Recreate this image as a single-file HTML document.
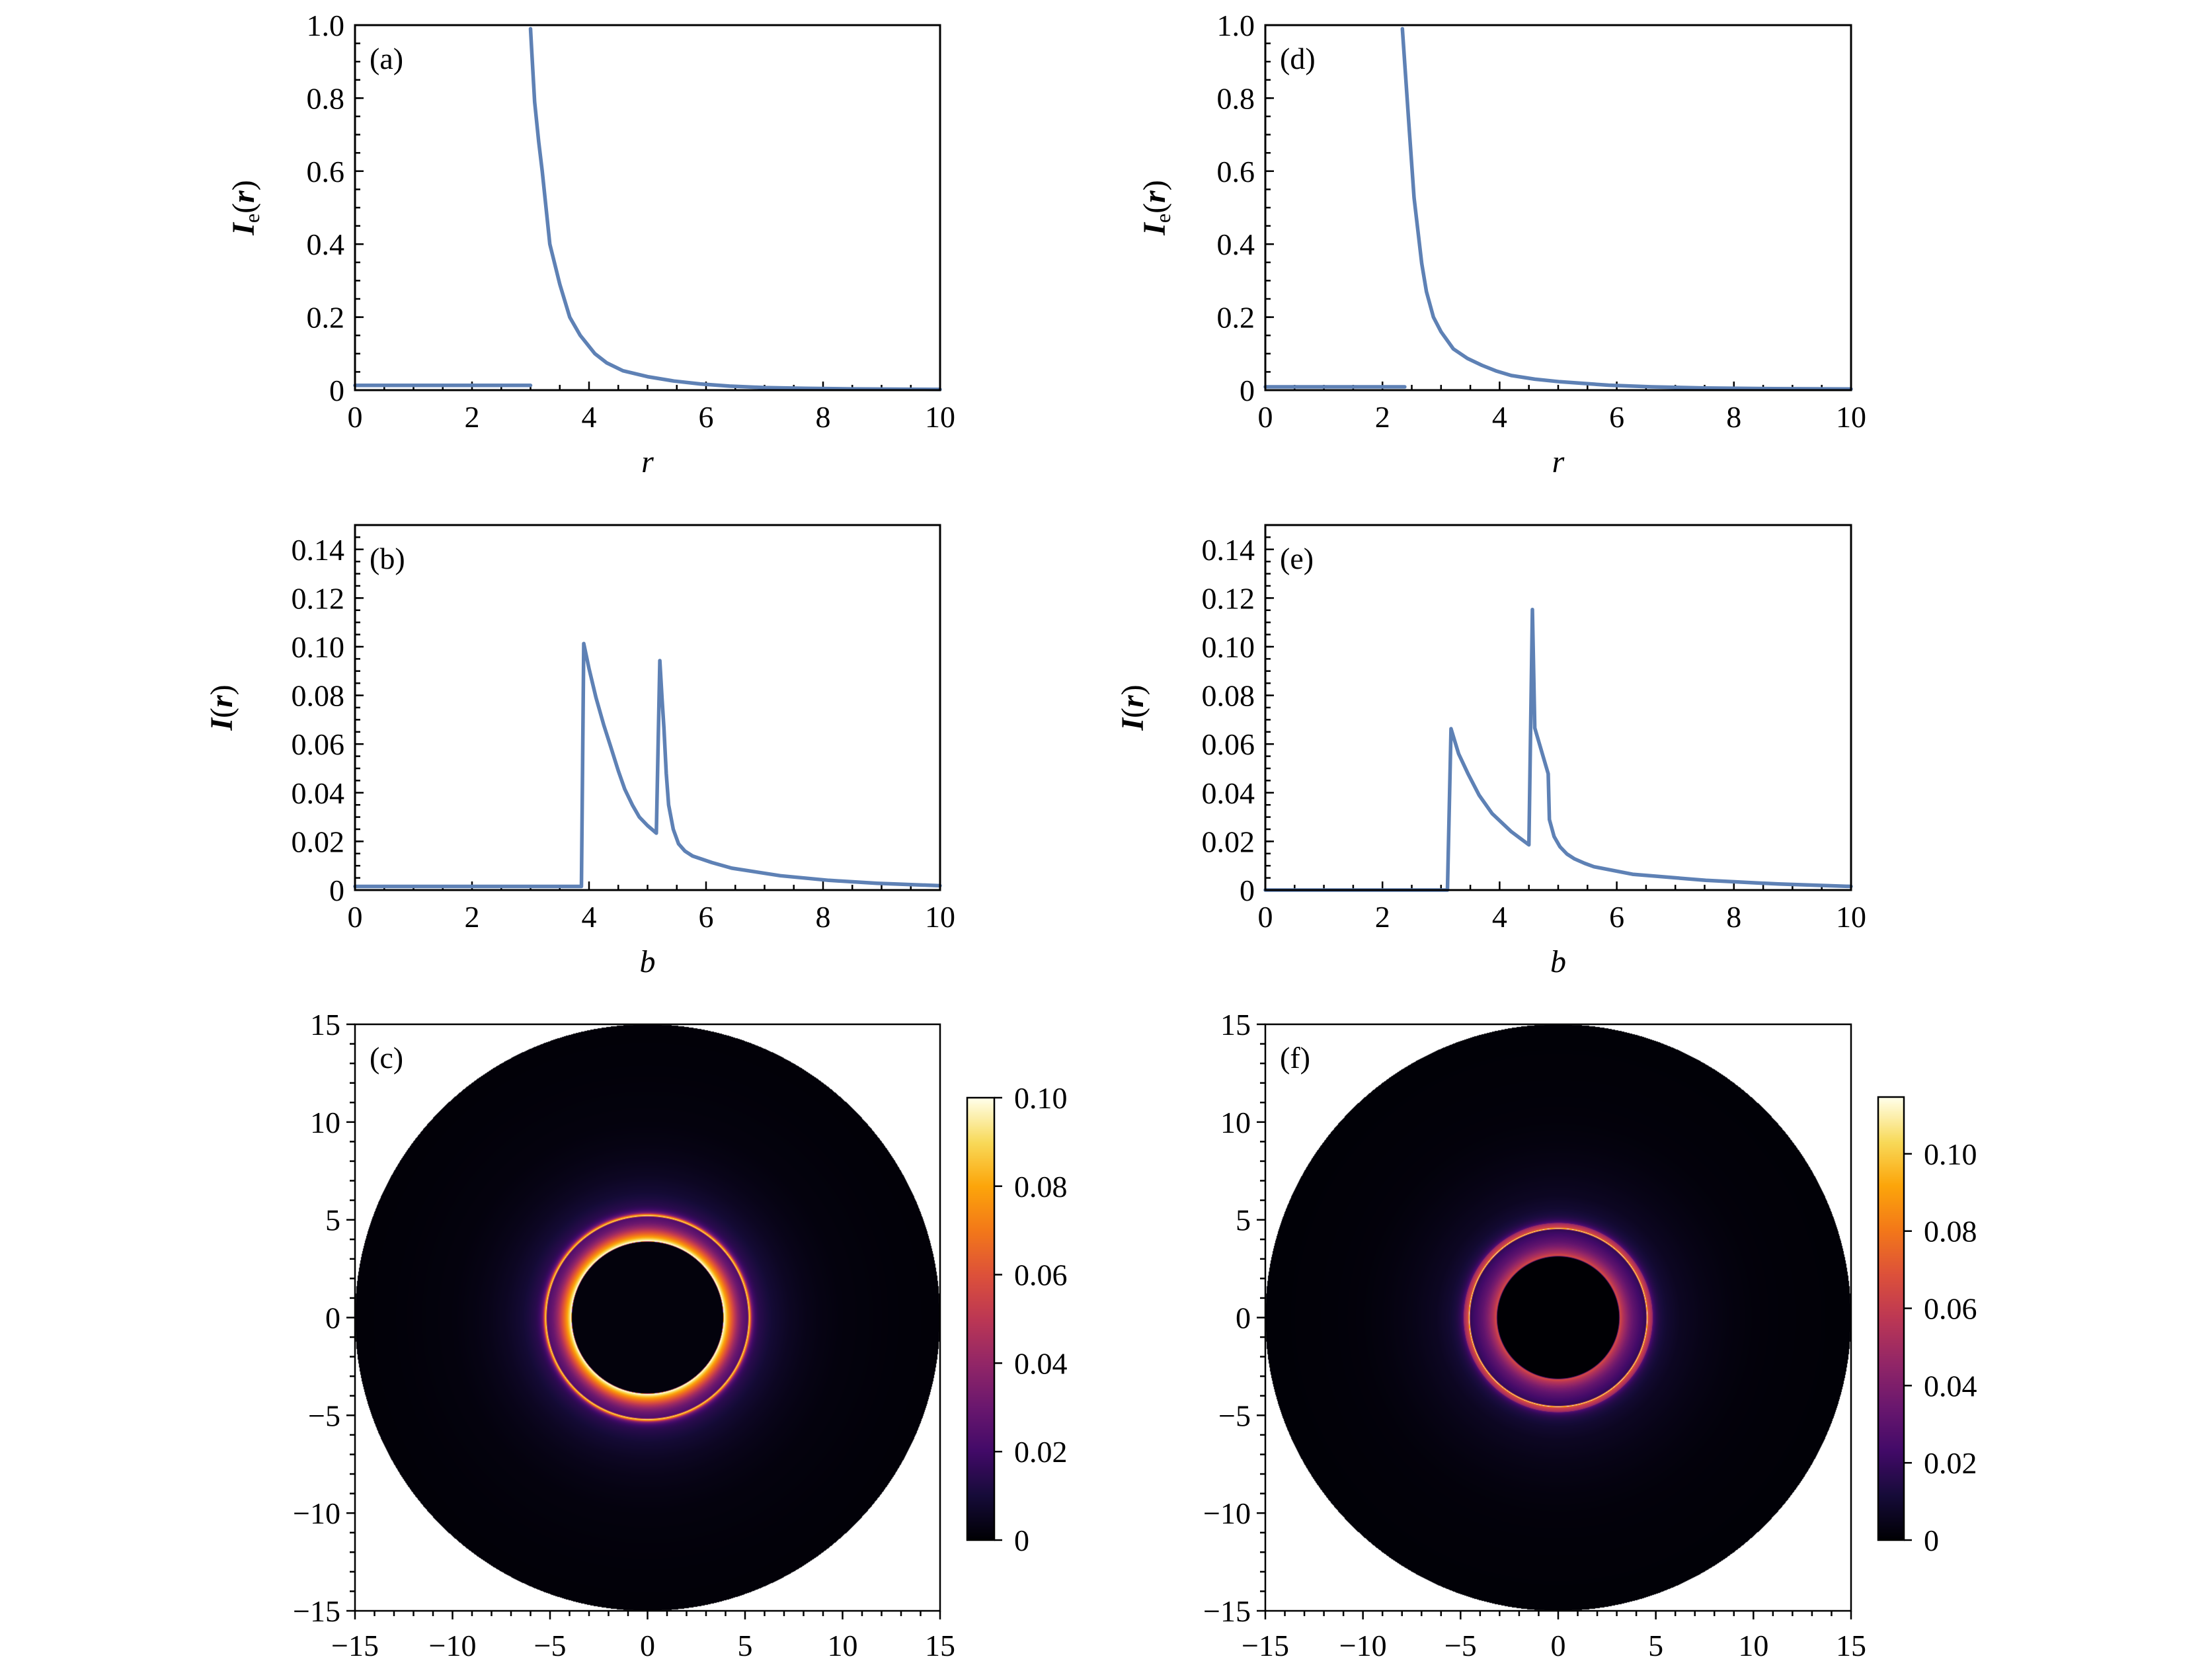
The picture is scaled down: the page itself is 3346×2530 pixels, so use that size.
<!DOCTYPE html>
<html><head><meta charset="utf-8">
<style>
html,body{margin:0;padding:0;background:#fff;}
#wrap{position:relative;width:3346px;height:2530px;overflow:hidden;background:#fff;}
canvas{position:absolute;}
svg{position:absolute;left:0;top:0;}
text{font-family:"Liberation Serif",serif;fill:#000;}
</style></head>
<body>
<div id="wrap">
<canvas id="heatC" style="left:537px;top:1549px" width="885" height="887"></canvas>
<canvas id="heatF" style="left:1914px;top:1549px" width="886" height="887"></canvas>
<canvas id="cbarC" style="left:1463px;top:1660px" width="41" height="669"></canvas>
<canvas id="cbarF" style="left:2841px;top:1659px" width="39" height="670"></canvas>
<svg id="svg" width="3346" height="2530"></svg>
</div>
<script>
// ---- data; null = gap in line ----
const aR = [0,3.0,null,3.0,3.02,3.07,3.14,3.2,3.33,3.5,3.67,3.85,4.1,4.3,4.58,5.0,5.45,5.9,6.4,7.0,7.7,8.5,10];
const aI = [0.013,0.013,null,0.99,0.93,0.79,0.68,0.6,0.4,0.29,0.2,0.15,0.1,0.075,0.053,0.037,0.025,0.017,0.011,0.007,0.005,0.0035,0.002];
const dR = [0,2.38,null,2.34,2.4,2.46,2.54,2.67,2.75,2.87,3.0,3.21,3.45,3.7,3.95,4.2,4.6,5.03,5.86,6.6,7.5,8.7,10];
const dI = [0.009,0.009,null,0.99,0.85,0.707,0.527,0.347,0.27,0.2,0.16,0.113,0.087,0.068,0.052,0.04,0.03,0.023,0.0135,0.009,0.006,0.004,0.003];
const bB = [0,3.87,3.91,4.0,4.12,4.25,4.37,4.5,4.61,4.74,4.86,5.0,5.15,5.21,5.25,5.28,5.32,5.36,5.44,5.53,5.64,5.77,6.1,6.44,7.27,8.1,8.92,10,12.5,15];
const bI = [0.0015,0.0015,0.1013,0.091,0.079,0.068,0.059,0.049,0.0415,0.035,0.030,0.0265,0.0234,0.0943,0.078,0.0666,0.048,0.035,0.025,0.019,0.016,0.014,0.0113,0.009,0.0059,0.004,0.0028,0.0018,0.0011,0.0007];
const eB = [0,3.11,3.17,3.3,3.46,3.65,3.87,4.2,4.5,4.56,4.6,4.62,4.83,4.85,4.93,5.03,5.15,5.28,5.45,5.61,6.27,7.52,8.76,10,12.5,15];
const eI = [0,0,0.0663,0.056,0.0478,0.039,0.0315,0.024,0.0186,0.1153,0.0666,0.065,0.0478,0.029,0.022,0.0178,0.0148,0.0128,0.011,0.0096,0.0065,0.004,0.0025,0.0015,0.0009,0.0006];
const ieTicks = ["0","0.2","0.4","0.6","0.8","1.0"];
const iTicks = ["0","0.02","0.04","0.06","0.08","0.10","0.12","0.14"];
const xTicks = ["0","2","4","6","8","10"];
const imgTicks = ["\u221215","\u221210","\u22125","0","5","10","15"];
const cbTicks = ["0","0.02","0.04","0.06","0.08","0.10"];
const cbMaxC = 0.10, cbMaxF = 0.1147;

const NS="http://www.w3.org/2000/svg";
const svg=document.getElementById('svg');
function mk(tag,attrs,parent){const e=document.createElementNS(NS,tag);for(const k in attrs)e.setAttribute(k,attrs[k]);(parent||svg).appendChild(e);return e;}
function txt(x,y,s,anchor,size,parent,extra){const t=mk('text',Object.assign({x:x,y:y,'text-anchor':anchor,'font-size':size},extra||{}),parent);t.textContent=s;return t;}
function scale(d0,d1,p0,p1){return v=>p0+(v-d0)/(d1-d0)*(p1-p0);}
const FS=46;

function linePanel(id,box,xs,ys,ymax,ytl,ystep,yminor,xlab,ylab,plabel,ylabX){
  const g=mk('g',{});
  
  
  const X=scale(0,10,box[0],box[1]), Y=scale(0,ymax,box[3],box[2]);
  for(let v=0;v<=10.001;v+=0.5){const maj=Math.abs(v/2-Math.round(v/2))<1e-6;mk('line',{x1:X(v),x2:X(v),y1:box[3],y2:box[3]-(maj?13:8),stroke:'#000','stroke-width':2.5},g);}
  for(let v=0;v<=ymax+1e-9;v+=yminor){mk('line',{x1:box[0],x2:box[0]+8,y1:Y(v),y2:Y(v),stroke:'#000','stroke-width':2.5},g);}
  ytl.forEach((s,i)=>{const v=i*ystep;mk('line',{x1:box[0],x2:box[0]+13,y1:Y(v),y2:Y(v),stroke:'#000','stroke-width':2.5},g);
    const t=txt(box[0]-16,Y(v)+16,s,'end',FS,g);});
  xTicks.forEach((s,i)=>{const t=txt(X(i*2),box[3]+56,s,'middle',FS,g);});
  let d='',pen=false;
  xs.forEach((x,i)=>{if(x===null){pen=false;return;}d+=(pen?'L':'M')+X(x).toFixed(1)+','+Y(ys[i]).toFixed(1);pen=true;});
  const p=mk('path',{d:d,fill:'none',stroke:'#5e81b5','stroke-width':5.5,'stroke-linejoin':'round','stroke-linecap':'round'},g);
  
  
  const fr=mk('rect',{x:box[0],y:box[2],width:box[1]-box[0],height:box[3]-box[2],fill:'none',stroke:'#000','stroke-width':3},g);
  
  
  const pl=txt(box[0]+22,box[2]+66,plabel,'start',46,g);
  
  
  const xt=txt((box[0]+box[1])/2,box[3]+124,xlab,'middle',48,g,{'font-style':'italic'});
  
  
  const cy=(box[2]+box[3])/2;
  const yt=mk('text',{x:ylabX,y:cy,'text-anchor':'middle','font-size':48,transform:'rotate(-90 '+ylabX+' '+cy+')'},g);
  
  
  if(ylab==='Ie'){yt.innerHTML='<tspan font-style="italic" font-weight="bold">I</tspan><tspan font-size="32" dy="8">e</tspan><tspan dy="-8">(</tspan><tspan font-style="italic" font-weight="bold">r</tspan>)';}
  else{yt.innerHTML='<tspan font-style="italic" font-weight="bold">I</tspan>(<tspan font-style="italic" font-weight="bold">r</tspan>)';}
}
linePanel('a',[537,1422,38,590],aR,aI,1.0,ieTicks,0.2,0.05,'r','Ie','(a)',384);
linePanel('d',[1914,2800,38,590],dR,dI,1.0,ieTicks,0.2,0.05,'r','Ie','(d)',1762);
linePanel('b',[537,1422,794,1346],bB.slice(0,28),bI.slice(0,28),0.15,iTicks,0.02,0.005,'b','I','(b)',351);
linePanel('e',[1914,2800,794,1346],eB.slice(0,24),eI.slice(0,24),0.15,iTicks,0.02,0.005,'b','I','(e)',1729);

const inf=[[0,0,4],[22,11,57],[66,10,104],[106,23,110],[147,38,103],[188,55,84],[221,81,58],[243,120,25],[252,165,10],[248,218,90],[255,255,235]];
function cmap(t){t=Math.max(0,Math.min(1,t));const f=t*10,i=Math.min(9,Math.floor(f)),u=f-i;const a=inf[i],b=inf[i+1];return [a[0]+(b[0]-a[0])*u,a[1]+(b[1]-a[1])*u,a[2]+(b[2]-a[2])*u];}
function interp(xs,ys,v){if(v<=xs[0])return ys[0];for(let i=1;i<xs.length;i++){if(v<=xs[i]){const dx=xs[i]-xs[i-1];return dx<=0?ys[i]:ys[i-1]+(ys[i]-ys[i-1])*(v-xs[i-1])/dx;}}return ys[ys.length-1];}
function heat(id,xs,ys,vmax){const c=document.getElementById(id),ctx=c.getContext('2d'),W=c.width,H=c.height;const im=ctx.createImageData(W,H);
  for(let py=0;py<H;py++)for(let px=0;px<W;px++){const x=-15+30*(px+0.5)/W,y=15-30*(py+0.5)/H,b=Math.hypot(x,y);const k=(py*W+px)*4;
    let col=[255,255,255];if(b<=15){col=cmap(interp(xs,ys,b)/vmax);}im.data[k]=col[0];im.data[k+1]=col[1];im.data[k+2]=col[2];im.data[k+3]=255;}
  ctx.putImageData(im,0,0);}
heat('heatC',bB,bI,cbMaxC);heat('heatF',eB,eI,cbMaxF);
function cbar(id){const c=document.getElementById(id),ctx=c.getContext('2d');for(let y=0;y<c.height;y++){const col=cmap(1-y/(c.height-1));ctx.fillStyle='rgb('+col.map(Math.round).join(',')+')';ctx.fillRect(0,y,c.width,1);}}
cbar('cbarC');cbar('cbarF');

function imgPanel(id,box,plabel,cb,cbmax){
  const g=mk('g',{});
  
  
  const X=scale(-15,15,box[0],box[1]),Y=scale(-15,15,box[3],box[2]);
  for(let v=-15;v<=15;v++){const maj=v%5===0;mk('line',{x1:X(v),x2:X(v),y1:box[3],y2:box[3]+(maj?13:8),stroke:'#000','stroke-width':2.5},g);
    mk('line',{x1:box[0],x2:box[0]-(maj?13:8),y1:Y(v),y2:Y(v),stroke:'#000','stroke-width':2.5},g);}
  imgTicks.forEach((s,i)=>{const v=-15+5*i;
    const a=txt(X(v),box[3]+68,s,'middle',FS,g);
    const b=txt(box[0]-22,Y(v)+16,s,'end',FS,g);});
  const fr=mk('rect',{x:box[0],y:box[2],width:box[1]-box[0],height:box[3]-box[2],fill:'none',stroke:'#000','stroke-width':2.5},g);
  
  
  const pl=txt(box[0]+22,box[2]+66,plabel,'start',46,g,{fill:'#000'});
  
  
  const C=scale(0,cbmax,cb[3],cb[2]);
  const cr=mk('rect',{x:cb[0],y:cb[2],width:cb[1]-cb[0],height:cb[3]-cb[2],fill:'none',stroke:'#000','stroke-width':2.5},g);
  
  
  cbTicks.forEach((s,i)=>{const v=0.02*i;if(v>cbmax+1e-9)return;mk('line',{x1:cb[1],x2:cb[1]+12,y1:C(v),y2:C(v),stroke:'#000','stroke-width':2.5},g);
    const t=txt(cb[1]+30,C(v)+16,s,'start',FS,g);});
}
imgPanel('c',[537,1422,1549,2436],'(c)',[1463,1504,1660,2329],cbMaxC);
imgPanel('f',[1914,2800,1549,2436],'(f)',[2841,2880,1659,2329],cbMaxF);
</script>
</body></html>
